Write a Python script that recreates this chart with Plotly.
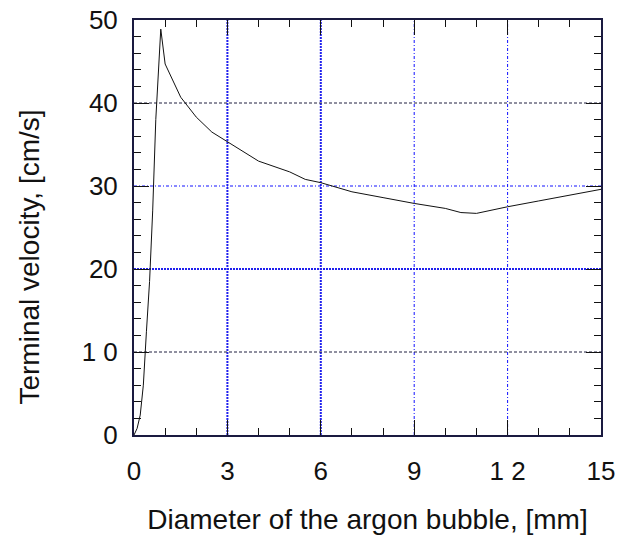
import plotly.graph_objects as go

# Data
diameter_mm = [0, 0.1, 0.2, 0.3, 0.4, 0.5, 0.6, 0.7, 0.86, 1.0, 1.5, 2.0, 2.5, 3.0,
               4.0, 5.0, 5.5, 6.0, 7.0, 8.0, 9.0, 10.0, 10.5, 11.0, 12.0, 13.0, 14.0, 15.0]
velocity_cms = [0, 0.8, 2.4, 6.0, 12.5, 18.5, 27.0, 38.0, 48.9, 44.7, 40.7, 38.3, 36.5, 35.3,
                33.0, 31.7, 30.8, 30.4, 29.3, 28.6, 27.9, 27.3, 26.8, 26.7, 27.5, 28.2, 28.9, 29.6]

x_tickvals = [0, 3, 6, 9, 12, 15]
x_ticktext = ["0", "3", "6", "9", "1 2", "15"]
y_tickvals = [0, 10, 20, 30, 40, 50]
y_ticktext = ["0", "1 0", "20", "30", "40", "50"]

x_title = "Diameter of the argon bubble, [mm]"
y_title = "Terminal velocity, [cm/s]"

# grid line styles (colour, width, dash) for interior ticks
x_grid_styles = {3: ("#2020ee", 2, "2px,1px"), 6: ("#2020ee", 2, "2px,1px"),
                 9: ("#1010ff", 1, "3px,2px,1px,2px"), 12: ("#1010ff", 1, "3px,2px,1px,2px")}
y_grid_styles = {10: ("#202040", 1, "3px,2px"), 20: ("#2020ee", 2, "2px,1px"),
                 30: ("#1010ff", 1, "3px,2px,1px,2px"), 40: ("#202040", 1, "3px,2px")}

FONT = "Liberation Sans, Arial, sans-serif"

fig = go.Figure()
fig.add_trace(go.Scatter(x=diameter_mm, y=velocity_cms, mode="lines",
                         line=dict(color="#111111", width=1), showlegend=False,
                         hoverinfo="skip"))

shapes = []
for v, (c, w, d) in x_grid_styles.items():
    shapes.append(dict(type="line", xref="x", yref="paper", x0=v, x1=v, y0=0, y1=1,
                       line=dict(color=c, width=w, dash=d), layer="below"))
for v, (c, w, d) in y_grid_styles.items():
    shapes.append(dict(type="line", xref="paper", yref="y", x0=0, x1=1, y0=v, y1=v,
                       line=dict(color=c, width=w, dash=d), layer="below"))

axis_common = dict(
    showgrid=False, zeroline=False, showline=True, linecolor="#1a1a40", linewidth=2,
    mirror="allticks", ticks="inside", ticklen=15, tickwidth=1, tickcolor="#111111",
    tickfont=dict(family=FONT, size=26, color="#111111"), automargin=False,
)

fig.update_layout(
    width=632, height=541,
    margin=dict(l=134, r=31, t=20, b=106),
    paper_bgcolor="white", plot_bgcolor="white",
    shapes=shapes,
    xaxis=dict(range=[0, 15], tickvals=x_tickvals, ticktext=x_ticktext,
               ticklabelstandoff=12,
               minor=dict(dtick=1, ticks="inside", ticklen=7, tickcolor="#111111", showgrid=False),
               title=dict(text=x_title,
                          font=dict(family=FONT, size=28, color="#111111"), standoff=24),
               **axis_common),
    yaxis=dict(range=[0, 50], tickvals=y_tickvals, ticktext=y_ticktext,
               ticklabelstandoff=9,
               minor=dict(dtick=2, ticks="inside", ticklen=7, tickcolor="#111111", showgrid=False),
               **axis_common),
    annotations=[dict(text=y_title, textangle=-90, xref="paper", yref="paper",
                      x=-0.2227, y=0.43, xanchor="center", yanchor="middle",
                      showarrow=False, font=dict(family=FONT, size=28, color="#111111"))],
)

fig.write_html("out.html")
